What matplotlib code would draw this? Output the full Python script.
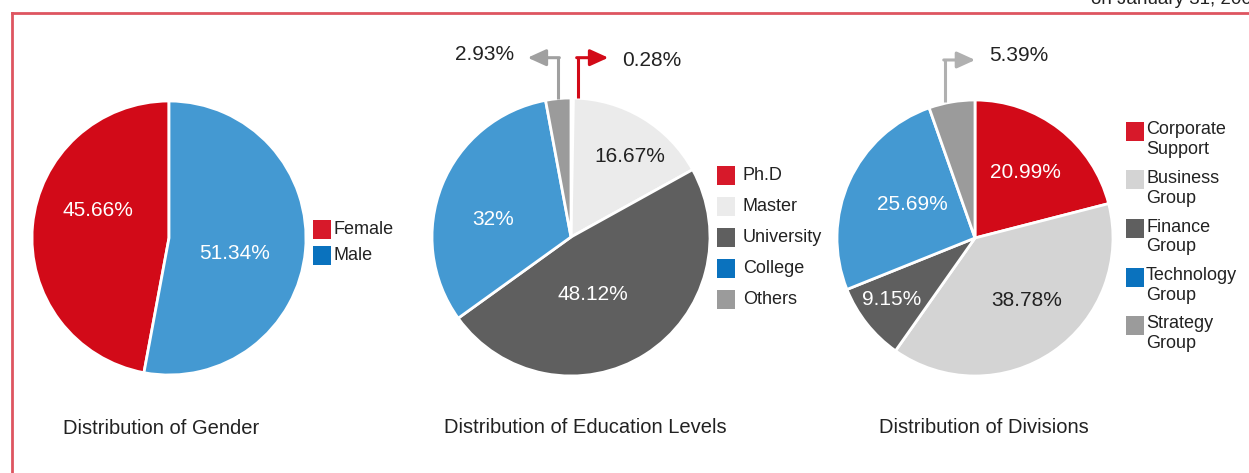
import numpy as np
import matplotlib.pyplot as plt
from matplotlib.lines import Line2D
from matplotlib.patches import Rectangle

plt.rcParams['font.family'] = ['Liberation Sans', 'DejaVu Sans']

# data
gender_labels = ['Female', 'Male']
gender_vals = [45.66, 51.34]
gender_text = ['45.66%', '51.34%']
gender_cols = ['#D20A18', '#4499D2']
gender_leg_cols = ['#D7192A', '#0A72BE']

edu_labels = ['Ph.D', 'Master', 'University', 'College', 'Others']
edu_vals = [0.28, 16.67, 48.12, 32.0, 2.93]
edu_text = ['0.28%', '16.67%', '48.12%', '32%', '2.93%']
edu_cols = ['#D20A18', '#EBEBEB', '#5F5F5F', '#4499D2', '#9B9B9B']
edu_leg_cols = ['#D7192A', '#EBEBEB', '#5F5F5F', '#0A72BE', '#9B9B9B']

div_labels = ['Corporate\nSupport', 'Business\nGroup', 'Finance\nGroup',
              'Technology\nGroup', 'Strategy\nGroup']
div_vals = [20.99, 38.78, 9.15, 25.69, 5.39]
div_text = ['20.99%', '38.78%', '9.15%', '25.69%', '5.39%']
div_cols = ['#D20A18', '#D4D4D4', '#5F5F5F', '#4499D2', '#9B9B9B']
div_leg_cols = ['#D7192A', '#D4D4D4', '#5F5F5F', '#0A72BE', '#9B9B9B']

W, H = 1249, 473
fig = plt.figure(figsize=(W / 100, H / 100), dpi=100)
TXT = '#222222'


def pie_axes(cx, cy, r):
    return fig.add_axes([(cx - r) / W, (H - cy - r) / H, 2 * r / W, 2 * r / H])


def draw_pie(ax, vals, cols, ccw=False):
    wedges, _ = ax.pie(vals, colors=cols, startangle=90, counterclock=ccw,
                       wedgeprops=dict(edgecolor='white', linewidth=2))
    ax.set_xlim(-1, 1)
    ax.set_ylim(-1, 1)
    ax.set_aspect('equal')
    ax.axis('off')
    return wedges


def mid_angle(w):
    return np.deg2rad((w.theta1 + w.theta2) / 2)


def label_in(ax, w, txt, rr, color, dx=0.0, dy=0.0):
    a = mid_angle(w)
    ax.text(rr * np.cos(a) + dx, rr * np.sin(a) + dy, txt, ha='center', va='center',
            fontsize=15, color=color)


def callout(ax, w, txt, color, side, dx_shift=0.0, ty=0.03):
    a = mid_angle(w)
    x0 = np.cos(a) + dx_shift
    y0 = np.sin(a)
    ytop = 1.29
    ax.plot([x0, x0], [y0, ytop], color=color, lw=2.2, clip_on=False,
            solid_capstyle='butt')
    x1 = x0 + side * 0.22
    ax.annotate('', xy=(x1, ytop), xytext=(x0 - side * 0.008, ytop),
                arrowprops=dict(arrowstyle='-|>,head_length=1.1,head_width=0.5',
                                color=color, lw=2.2, shrinkA=0, shrinkB=0),
                annotation_clip=False)
    ax.text(x1 + side * 0.1, ytop + ty, txt, ha='left' if side > 0 else 'right',
            va='center', fontsize=15, color=TXT)


def legend_px(labels, cols, x, y, step, gap, two_line=False):
    sq_w, sq_h = 18, 19
    for i, (lab, c) in enumerate(zip(labels, cols)):
        yy = y + i * step
        fig.add_artist(Rectangle((x / W, 1 - (yy + sq_h) / H), sq_w / W, sq_h / H,
                                 transform=fig.transFigure, color=c, lw=0))
        if two_line:
            fig.text((x + sq_w + gap) / W, 1 - (yy - 0.5) / H, lab, ha='left',
                     va='top', fontsize=13, color=TXT, linespacing=1.2)
        else:
            fig.text((x + sq_w + gap) / W, 1 - (yy + sq_h / 2) / H, lab, ha='left',
                     va='center', fontsize=13, color=TXT)


# Gender
ax1 = pie_axes(169, 238, 137)
w1 = draw_pie(ax1, gender_vals, gender_cols, ccw=True)
label_in(ax1, w1[0], gender_text[0], 0.55, 'white', dx=0.03, dy=0.15)
label_in(ax1, w1[1], gender_text[1], 0.48, 'white', dy=-0.07)
legend_px(gender_labels, gender_leg_cols, 313, 220, 26, 3)
ax1.text(-0.058, -1.39, 'Distribution of Gender', ha='center', va='center',
         fontsize=14.5, color=TXT)

# Education
ax2 = pie_axes(571, 237, 139)
w2 = draw_pie(ax2, edu_vals, edu_cols)
label_in(ax2, w2[1], edu_text[1], 0.7, TXT, dx=0.06, dy=-0.02)
label_in(ax2, w2[2], edu_text[2], 0.55, 'white', dx=-0.14, dy=0.05)
label_in(ax2, w2[3], edu_text[3], 0.6, 'white', dy=-0.1)
callout(ax2, w2[4], edu_text[4], '#A0A0A0', -1, ty=0.02)
callout(ax2, w2[0], edu_text[0], '#D20A18', 1, dx_shift=0.04, ty=-0.02)
legend_px(edu_labels, edu_leg_cols, 717, 166, 31, 8)
ax2.text(0.1, -1.37, 'Distribution of Education Levels', ha='center', va='center',
         fontsize=14.5, color=TXT)

# Divisions
ax3 = pie_axes(975, 238, 138)
w3 = draw_pie(ax3, div_vals, div_cols)
label_in(ax3, w3[0], div_text[0], 0.6, 'white')
label_in(ax3, w3[1], div_text[1], 0.55, TXT, dx=0.065)
label_in(ax3, w3[2], div_text[2], 0.72, 'white', dx=-0.04)
label_in(ax3, w3[3], div_text[3], 0.5, 'white', dy=0.035)
callout(ax3, w3[4], div_text[4], '#B0B0B0', 1, dx_shift=-0.05)
legend_px(div_labels, div_leg_cols, 1126, 122, 48.5, 2, two_line=True)
ax3.text(0.065, -1.37, 'Distribution of Divisions', ha='center', va='center',
         fontsize=14.5, color=TXT)

# frame and clipped header
fig.add_artist(Line2D([12 / W, 1], [1 - 13 / H, 1 - 13 / H], color='#DE5560', lw=2))
fig.add_artist(Line2D([12 / W, 12 / W], [1 - 13 / H, 0], color='#DE5560', lw=2))
fig.text(1091 / W, 1 - 4 / H, 'on January 31, 2009', ha='left', va='baseline',
         fontsize=13.5, color=TXT)

fig.savefig('out.png', dpi=100)
